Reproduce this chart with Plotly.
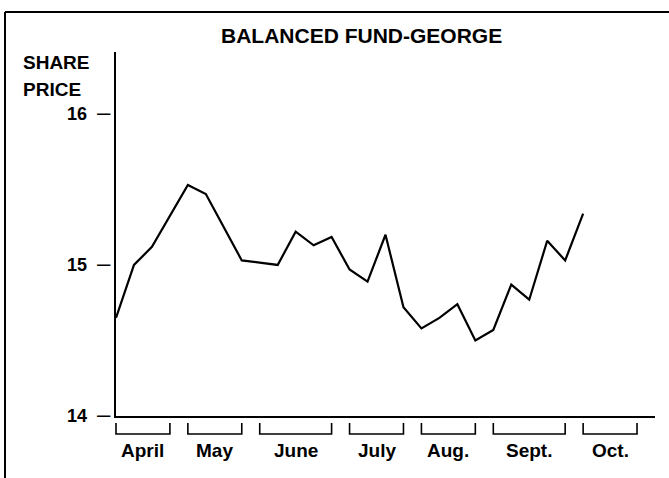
import plotly.graph_objects as go

# ---- data ----
weeks = list(range(27))
share_price = [14.65, 15.00, 15.12, 15.33, 15.53, 15.47, 15.25, 15.03, 15.015,
               15.00, 15.22, 15.13, 15.185, 14.97, 14.89, 15.20, 14.72, 14.58,
               14.65, 14.74, 14.50, 14.57, 14.87, 14.77, 15.16, 15.03, 15.34]
months = ["April", "May", "June", "July", "Aug.", "Sept.", "Oct."]
month_start_week = [0, 4, 8, 13, 17, 21, 26]
month_end_week = [3, 7, 12, 16, 20, 25, 29]
y_tick_vals = [14, 15, 16]
y_tick_text = ["14", "15", "16"]
title_text = "BALANCED FUND-GEORGE"
y_label_lines = ["SHARE", "PRICE"]

# ---- layout geometry ----
W, H = 669, 478
ml, mr, mt, mb = 116, 14, 52, 62
x_range = [0, 30]
y_range = [14, 16.41]
plot_w = W - ml - mr
plot_h = H - mt - mb
FONT = "Liberation Sans, Arial, Helvetica, sans-serif"


def px_to_paper_x(px):
    return (px - ml) / plot_w


def px_to_paper_y(py):
    return (H - mb - py) / plot_h


def week_to_paper(w):
    return (w - x_range[0]) / (x_range[1] - x_range[0])


fig = go.Figure()
fig.add_trace(go.Scatter(
    x=weeks, y=share_price, mode="lines",
    line=dict(color="black", width=2.2),
    hoverinfo="skip", showlegend=False,
))

shapes = []
# month brackets under the x axis
b_top = px_to_paper_y(H - mb + 7)
b_bot = px_to_paper_y(H - mb + 18)
for s, e in zip(month_start_week, month_end_week):
    xs, xe = week_to_paper(s), week_to_paper(e)
    shapes.append(dict(
        type="path", xref="paper", yref="paper",
        path=f"M {xs},{b_top} L {xs},{b_bot} L {xe},{b_bot} L {xe},{b_top}",
        line=dict(color="black", width=1.6),
    ))
# outer frame (left and top edges)
fx, fy = px_to_paper_x(5), px_to_paper_y(12)
shapes.append(dict(type="line", xref="paper", yref="paper",
                   x0=fx, x1=fx, y0=px_to_paper_y(H + 5), y1=fy,
                   line=dict(color="black", width=2)))
shapes.append(dict(type="line", xref="paper", yref="paper",
                   x0=fx, x1=px_to_paper_x(W + 5), y0=fy, y1=fy,
                   line=dict(color="black", width=2)))

annotations = [
    dict(text=f"<b>{title_text}</b>", xref="paper", yref="paper",
         x=px_to_paper_x(361), y=px_to_paper_y(36), xanchor="center", yanchor="middle",
         showarrow=False, font=dict(family=FONT, size=21, color="black")),
]
for i, line in enumerate(y_label_lines):
    annotations.append(dict(
        text=f"<b>{line}</b>", xref="paper", yref="paper",
        x=px_to_paper_x(21), y=px_to_paper_y(62.5 + 27 * i), xanchor="left", yanchor="middle",
        showarrow=False, font=dict(family=FONT, size=19, color="black")))
for m, s, e in zip(months, month_start_week, month_end_week):
    annotations.append(dict(
        text=f"<b>{m}</b>", xref="paper", yref="paper",
        x=week_to_paper((s + e) / 2), y=px_to_paper_y(450), xanchor="center", yanchor="middle",
        showarrow=False, font=dict(family=FONT, size=19, color="black")))

fig.update_layout(
    width=W, height=H,
    margin=dict(l=ml, r=mr, t=mt, b=mb, pad=0),
    paper_bgcolor="white", plot_bgcolor="white",
    shapes=shapes, annotations=annotations,
    xaxis=dict(range=x_range, showgrid=False, zeroline=False, showticklabels=False,
               ticks="", showline=True, linecolor="black", linewidth=2, fixedrange=True),
    yaxis=dict(range=y_range, showgrid=False, zeroline=False,
               tickvals=y_tick_vals,
               ticktext=[f"<b>{t}\u00a0\u00a0</b><span style='font-size:24px'>\u2013</span>"
                         for t in y_tick_text],
               tickfont=dict(family=FONT, size=18, color="black"),
               ticks="", showline=True, linecolor="black", linewidth=2, fixedrange=True),
)

fig.write_html("out.html", config={"displayModeBar": False},
               post_script="document.body.style.margin='0';")
